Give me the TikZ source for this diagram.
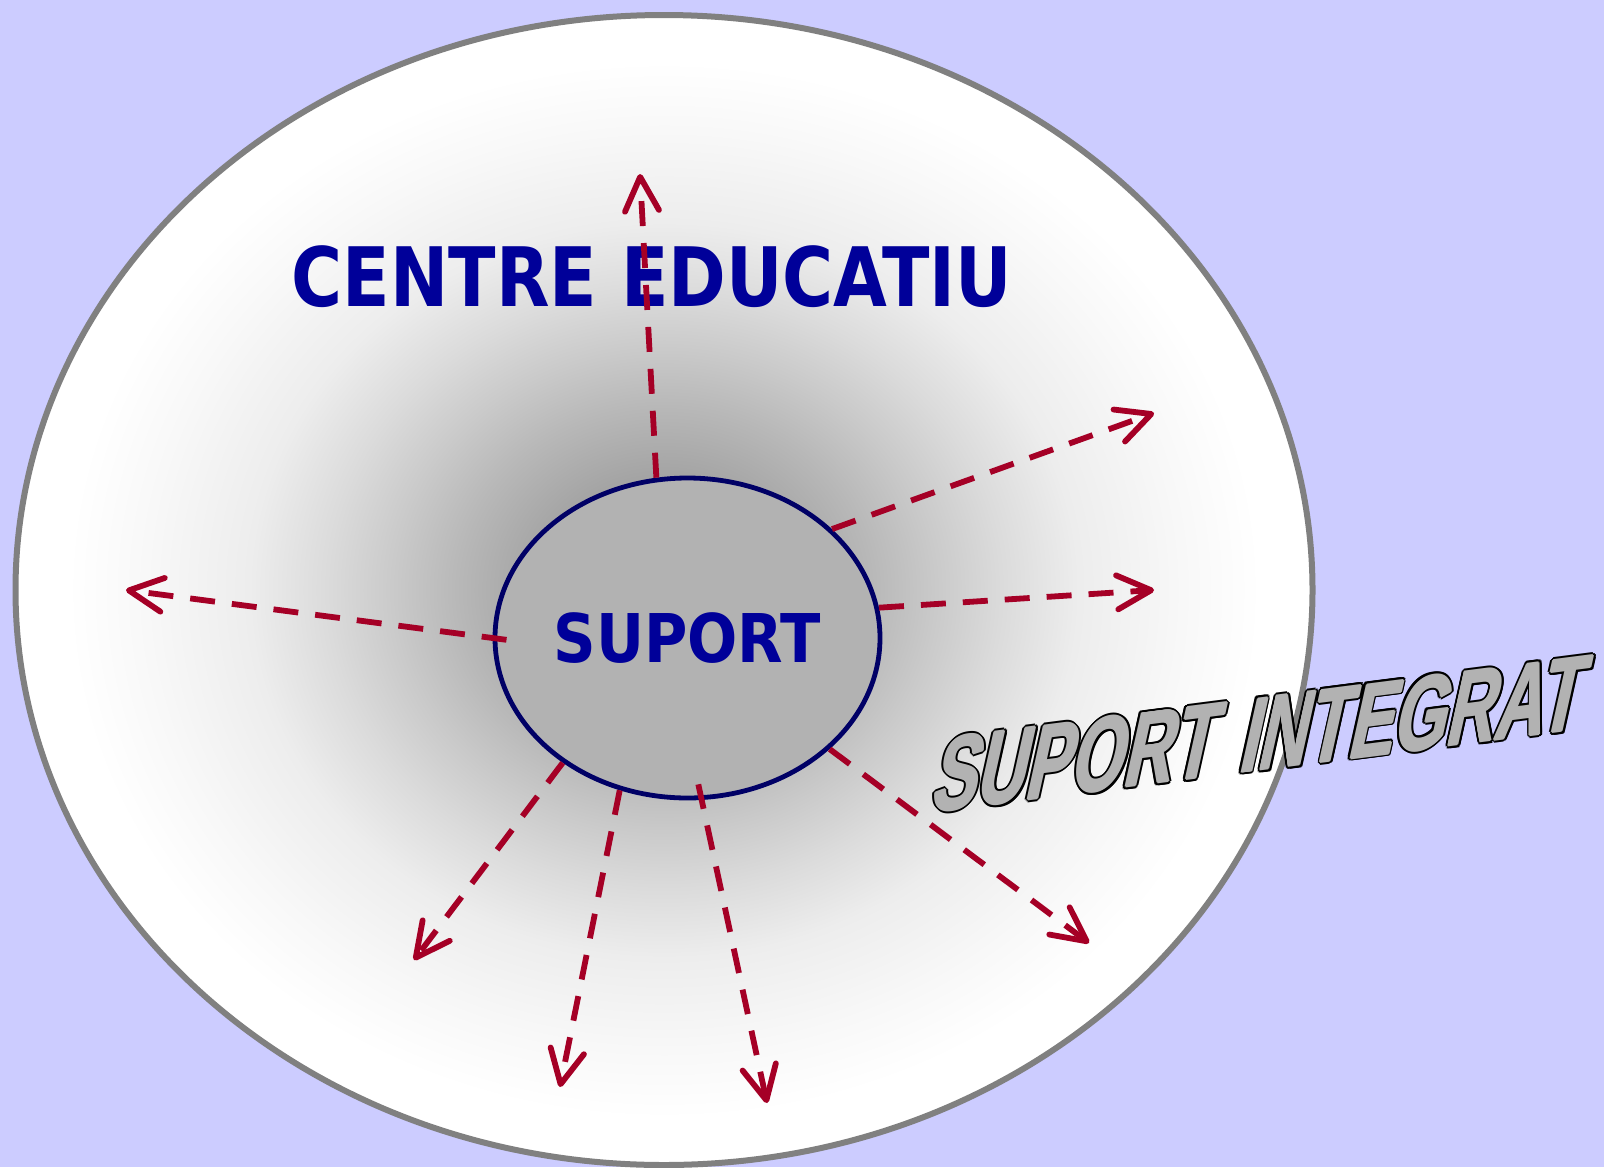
\documentclass[tikz,border=0pt]{standalone}
\usepackage{fontspec}
\usepackage{graphicx}
\setmainfont{DejaVu Sans}
\newfontfamily\wafont{Liberation Sans}
\usetikzlibrary{arrows.meta,shapes.geometric}
\definecolor{bgblue}{HTML}{CCCCFF}
\definecolor{ringgray}{HTML}{808080}
\definecolor{navy}{HTML}{000066}
\definecolor{txtblue}{HTML}{000099}
\definecolor{arrred}{HTML}{A50026}
\definecolor{suppgray}{HTML}{B2B2B2}
\definecolor{wagray}{HTML}{B2B2B2}
\definecolor{g0}{HTML}{9C9C9C}
\definecolor{g1}{HTML}{A4A4A4}
\definecolor{g2}{HTML}{B8B8B8}
\definecolor{g3}{HTML}{CACACA}
\definecolor{g4}{HTML}{DBDBDB}
\definecolor{g5}{HTML}{EDEDED}
\definecolor{g6}{HTML}{F8F8F8}
\pgfdeclareradialshading{glow}{\pgfpoint{0bp}{0bp}}{color(0bp)=(g0); color(5bp)=(g1); color(8bp)=(g2); color(10.5bp)=(g3); color(13bp)=(g4); color(16bp)=(g5); color(20bp)=(g6); color(23bp)=(white); color(50bp)=(white)}
\newcommand{\watext}{\scalebox{0.66}[1]{SUPORT\hspace{0.1em} INTEGRAT}}
\begin{document}
\begin{tikzpicture}[x=0.5pt,y=-0.5pt,
  arr/.style={draw=arrred, line width=2.9pt, dash pattern=on 12.5pt off 8.5pt,
    -{Straight Barb[length=17pt,width=17pt,round]}},
  wa/.style={rotate=7.3, xslant=0.36, font=\wafont\bfseries\fontsize{51.7}{60}\selectfont, inner sep=0pt}]
\fill[bgblue] (0,0) rectangle (1604,1167);
\useasboundingbox (0,0) rectangle (1604,1167);
\node[ellipse, draw=ringgray, line width=3pt, shade, shading=glow,
  minimum width=648.5pt, minimum height=575pt, inner sep=0pt] (outer) at (664,590) {};
\node[font=\bfseries\fontsize{41}{48}\selectfont, text=txtblue, inner sep=0pt] (title) at (652,277)
  {\scalebox{0.848}[1]{CENTRE EDUCATIU}};
\node[ellipse, draw=navy, line width=2.4pt, fill=suppgray, minimum width=192.5pt, minimum height=160pt,
  inner sep=0pt, font=\bfseries\fontsize{33.6}{40}\selectfont, text=txtblue] (sup) at (687.5,638)
  {\scalebox{0.88}[1]{SUPORT}};
\coordinate (e1) at (640,174);
\coordinate (e2) at (1154,413);
\coordinate (e3) at (1154,590);
\coordinate (e4) at (126,590);
\coordinate (e5) at (414,960);
\coordinate (e6) at (560,1087);
\coordinate (e7) at (767,1103);
\coordinate (e8) at (1089,943);
\draw[arr] (sup.101.5) -- (e1);
\draw[arr] (sup.37.8) -- (e2);
\draw[arr] (sup.9.4) -- (e3);
\draw[arr, shorten <=-7pt] (sup.180) -- (e4);
\draw[arr] (sup.225) -- (e5);
\draw[arr] (sup.246.4) -- (e6);
\draw[arr, shorten <=-8pt] (sup.275.4) -- (e7);
\draw[arr] (sup.322) -- (e8);
\coordinate (wac) at (1262,734);
\foreach \a in {0,30,...,330}
  \node[wa, text=black] (wao\a) at ([shift={(\a:2.8)}]wac) {\watext};
\foreach \a in {0,90,180,270}
  \node[wa, text=wagray] (wag\a) at ([shift={(\a:0.9)}]wac) {\watext};
\node[wa, text=wagray] (wa) at (wac) {\watext};
\end{tikzpicture}
\end{document}
